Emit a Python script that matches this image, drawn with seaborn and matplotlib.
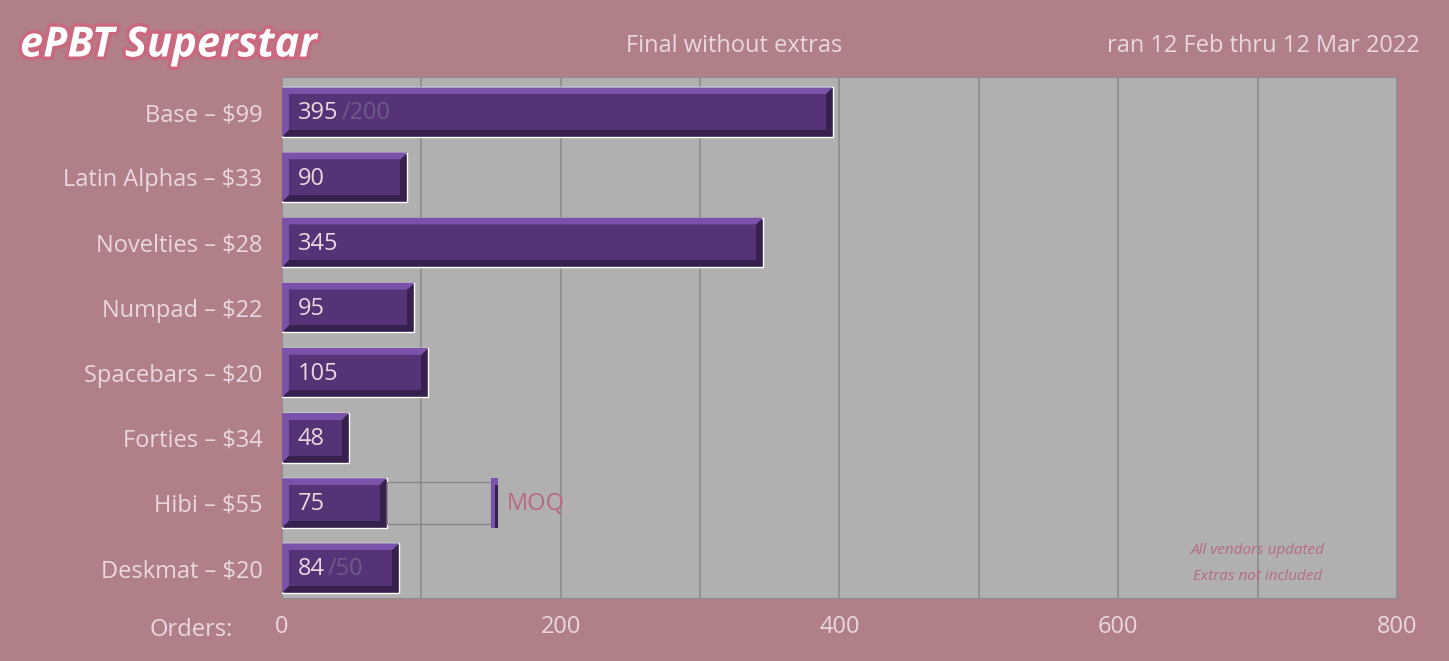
import matplotlib
matplotlib.use("Agg")
import matplotlib.pyplot as plt
import matplotlib.patheffects as pe
from matplotlib.patches import Polygon, Rectangle
import seaborn as sns
import pandas as pd

# Data
categories = ["Base – $99", "Latin Alphas – $33", "Novelties – $28", "Numpad – $22",
              "Spacebars – $20", "Forties – $34", "Hibi – $55", "Deskmat – $20"]
orders = [395, 90, 345, 95, 105, 48, 75, 84]
moq_marks = {0: 200, 7: 50}        # reached MOQ shown as "/x"
moq_open = {6: 150}                # MOQ not reached yet
x_ticks = [0, 200, 400, 600, 800]

BG = "#b07f88"
PLOT_BG = "#b0b0b0"
FACE = "#553377"
LIGHT = "#7b52aa"
DARK = "#36204d"
TXT = "#ead8de"

sns.set_style("white")
plt.rcParams["font.family"] = ["Open Sans", "DejaVu Sans"]

fig = plt.figure(figsize=(14.49, 6.61), dpi=100, facecolor=BG)
ax = fig.add_axes([0.1946, 0.0953, 0.7695, 0.7882])
ax.set_facecolor(PLOT_BG)

df = pd.DataFrame({"cat": categories, "orders": orders})
h = 0.76
sns.barplot(data=df, x="orders", y="cat", orient="h", color=DARK, width=h,
            saturation=1, ax=ax, zorder=3)

bx = 800 / 1115.0   # data units per pixel, x
by = 1 / 65.5       # data units per pixel, y
tx, ty = 7 * bx, 7 * by

for i, v in enumerate(orders):
    y0, y1 = i - h / 2, i + h / 2   # y0 is top (inverted axis)
    # light top-left bevel
    ax.add_patch(Polygon([(0, y0), (v, y0), (v - tx, y0 + ty), (tx, y0 + ty),
                          (tx, y1 - ty), (0, y1)], closed=True, color=LIGHT, zorder=4, lw=0))
    ax.add_patch(Rectangle((tx, y0 + ty), v - 2 * tx, h - 2 * ty, color=FACE, zorder=5, lw=0))
    ax.text(2 * tx + 2 * bx, i + 0.02, str(v), color=TXT, fontsize=17, va="center", zorder=6)
    if i in moq_marks:
        off = 2 * tx + (len(str(v)) * 14 + 4) * bx
        ax.text(off, i + 0.02, f"/{moq_marks[i]}", color="#6e5a86", fontsize=17,
                va="center", zorder=6)
    if i in moq_open:
        m = moq_open[i]
        ax.add_patch(Rectangle((v, y0 + 0.5 * ty), m - v, h - ty, fill=False,
                               ec="#888888", lw=1, zorder=3))
        ax.add_patch(Rectangle((m, y0), 7 * bx, h, color=LIGHT, zorder=4, lw=0))
        ax.add_patch(Rectangle((m + 3.5 * bx, y0 + ty), 3.5 * bx, h - ty, color=DARK, zorder=5, lw=0))
        ax.text(m + 16 * bx, i + 0.02, "MOQ", color="#b86a80", fontsize=17,
                va="center", zorder=6)

ax.set_xlim(0, 800)
ax.set_ylim(len(categories) - 0.5 - 0.04, -0.5 - 0.04)
ax.set_xticks(x_ticks)
ax.set_xticks([100, 300, 500, 700], minor=True)
ax.grid(axis="x", which="both", color="#8c8c8c", lw=1.2, zorder=0)
ax.set_axisbelow(True)
ax.tick_params(axis="both", length=0, labelsize=17, labelcolor=TXT, pad=14)
ax.tick_params(axis="x", pad=12)
ax.set_xlabel("")
ax.set_ylabel("")
for s in ax.spines.values():
    s.set_color("#8c8c8c")

fig.text(233 / 1449, 1 - 630 / 661, "Orders:", ha="right", va="center",
         color=TXT, fontsize=17)
fig.text(20 / 1449, 1 - 46 / 661, "ePBT Superstar", ha="left", va="center",
         color="white", fontsize=30, fontweight="bold", style="italic",
         path_effects=[pe.withStroke(linewidth=5, foreground="#c9687e")])
fig.text(734 / 1449, 1 - 46 / 661, "Final without extras", ha="center", va="center",
         color=TXT, fontsize=17)
fig.text(1420 / 1449, 1 - 46 / 661, "ran 12 Feb thru 12 Mar 2022", ha="right",
         va="center", color=TXT, fontsize=17)
fig.text(1258 / 1449, 1 - 551 / 661, "All vendors updated", ha="center", va="center",
         color="#b86a80", fontsize=11, style="italic")
fig.text(1258 / 1449, 1 - 576 / 661, "Extras not included", ha="center", va="center",
         color="#b86a80", fontsize=11, style="italic")

fig.savefig("out.png", dpi=100, facecolor=BG)
